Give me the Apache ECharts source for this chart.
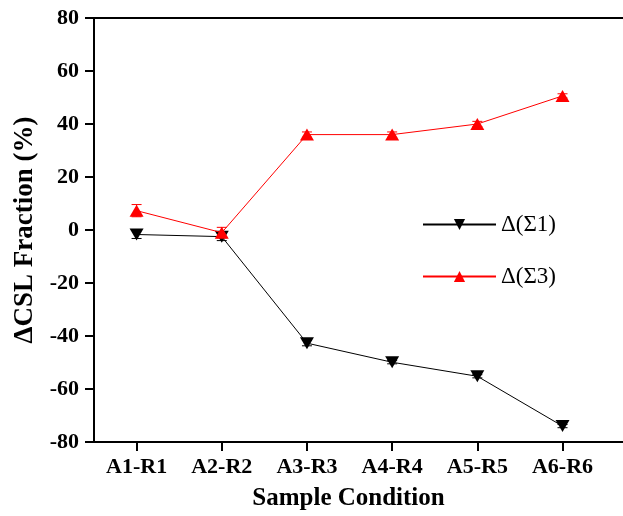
<!DOCTYPE html>
<html>
<head>
<meta charset="utf-8">
<script src="https://cdn.jsdelivr.net/npm/echarts@6/dist/echarts.min.js"></script>
<style>html,body{margin:0;padding:0;background:#fff}#c{width:623px;height:516px}</style>
</head>
<body>
<div id="c"></div>
<script>
var categories = ['A1-R1', 'A2-R2', 'A3-R3', 'A4-R4', 'A5-R5', 'A6-R6'];
var sigma1 = [-1.7, -2.5, -42.7, -49.9, -55.2, -74.0];
var sigma3 = [7.3, -1.0, 36.0, 36.0, 40.0, 50.6];
var sigma1Err = [1.5, 1.5, 1.0, 0.6, 0.6, 0.6];
var sigma3Err = [2.3, 2.0, 1.0, 1.0, 1.0, 0.8];
var yTicks = [-80, -60, -40, -20, 0, 20, 40, 60, 80];

var FONT = '"Liberation Serif", "Times New Roman", serif';
var positions = categories.map(function (c, i) { return i + 1; });

function pts(arr) { return arr.map(function (v, i) { return [i + 1, v]; }); }
function errData(vals, errs) { return vals.map(function (v, i) { return [i + 1, v - errs[i], v + errs[i]]; }); }

function errSeries(vals, errs, color) {
  return {
    type: 'custom',
    silent: true,
    z: 1,
    data: errData(vals, errs),
    renderItem: function (params, api) {
      var lo = api.coord([api.value(0), api.value(1)]);
      var hi = api.coord([api.value(0), api.value(2)]);
      var w = 5;
      var st = { stroke: color, lineWidth: 1 };
      return {
        type: 'group',
        children: [
          { type: 'line', shape: { x1: lo[0], y1: lo[1], x2: hi[0], y2: hi[1] }, style: st },
          { type: 'line', shape: { x1: lo[0] - w, y1: lo[1], x2: lo[0] + w, y2: lo[1] }, style: st },
          { type: 'line', shape: { x1: hi[0] - w, y1: hi[1], x2: hi[0] + w, y2: hi[1] }, style: st }
        ]
      };
    }
  };
}

var chart = echarts.init(document.getElementById('c'), null, { renderer: 'canvas' });
chart.setOption({
  animation: false,
  backgroundColor: '#fff',
  grid: { left: 94, right: 0, top: 18, bottom: 73, containLabel: false },
  legend: {
    orient: 'vertical',
    left: 417,
    top: 208,
    itemWidth: 73,
    itemHeight: 14,
    itemGap: 29,
    textStyle: { fontFamily: FONT, fontSize: 23, color: '#000' },
    data: ['Δ(Σ1)', 'Δ(Σ3)']
  },
  xAxis: [{
    type: 'value',
    min: 0.5,
    max: 6.71,
    position: 'bottom',
    splitLine: { show: false },
    axisLine: { show: true, onZero: false, lineStyle: { color: '#000', width: 2 } },
    axisTick: { show: true, customValues: positions, length: 9, inside: false, lineStyle: { color: '#000', width: 2 } },
    axisLabel: {
      customValues: positions,
      formatter: function (v) { return categories[Math.round(v) - 1] || ''; },
      fontFamily: FONT, fontSize: 22, fontWeight: 'bold', color: '#000', margin: 14
    },
    name: 'Sample Condition',
    nameLocation: 'middle',
    nameGap: 44,
    nameTextStyle: { fontFamily: FONT, fontSize: 25, fontWeight: 'bold', color: '#000', padding: [0, 20, 0, 0] }
  }, {
    type: 'value',
    min: 0.5,
    max: 6.71,
    position: 'top',
    splitLine: { show: false },
    axisLine: { show: true, onZero: false, lineStyle: { color: '#000', width: 2 } },
    axisTick: { show: false },
    axisLabel: { show: false }
  }],
  yAxis: {
    type: 'value',
    min: -80,
    max: 80,
    interval: 20,
    splitLine: { show: false },
    axisLine: { show: true, onZero: false, lineStyle: { color: '#000', width: 2 } },
    axisTick: { show: true, length: 9, inside: false, lineStyle: { color: '#000', width: 2 } },
    axisLabel: {
      formatter: function (v) { return yTicks.indexOf(v) >= 0 ? String(v) : ''; },
      fontFamily: FONT, fontSize: 22, fontWeight: 'bold', color: '#000', margin: 15
    },
    name: 'ΔCSL Fraction (%)',
    nameLocation: 'middle',
    nameGap: 53,
    nameRotate: 90,
    nameTextStyle: { fontFamily: FONT, fontSize: 27, fontWeight: 'bold', color: '#000' }
  },
  series: [
    errSeries(sigma1, sigma1Err, '#000'),
    errSeries(sigma3, sigma3Err, '#ff0000'),
    {
      name: 'Δ(Σ1)',
      type: 'line',
      data: pts(sigma1),
      symbol: 'path://M0,0 L10,0 L5,9 Z',
      symbolSize: [14, 12],
      showAllSymbol: true,
      lineStyle: { color: '#000', width: 1 },
      itemStyle: { color: '#000' },
      z: 3
    },
    {
      name: 'Δ(Σ3)',
      type: 'line',
      data: pts(sigma3),
      symbol: 'path://M5,0 L10,9 L0,9 Z',
      symbolSize: [14, 12],
      showAllSymbol: true,
      lineStyle: { color: '#ff0000', width: 1 },
      itemStyle: { color: '#ff0000' },
      z: 4
    }
  ]
});
</script>
</body>
</html>
